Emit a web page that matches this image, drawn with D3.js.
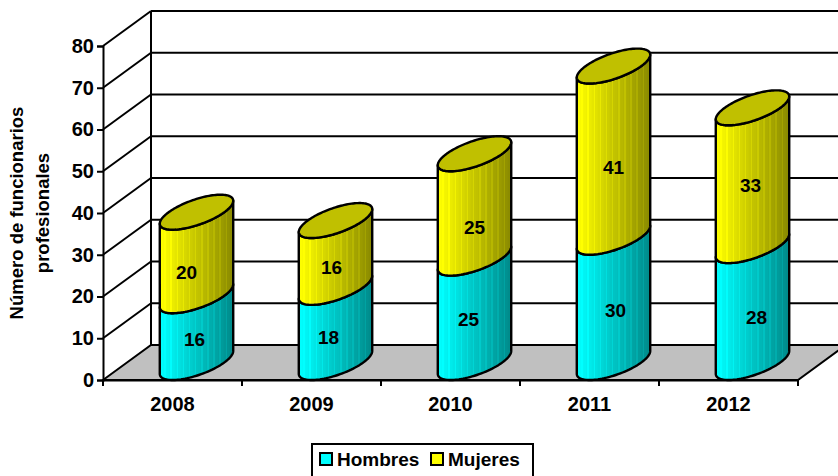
<!DOCTYPE html>
<html>
<head>
<meta charset="utf-8">
<script src="https://d3js.org/d3.v7.min.js"></script>
<style>
  html, body { margin: 0; padding: 0; background: #fff; }
  svg { display: block; }
  text { font-family: "Liberation Sans", Arial, sans-serif; font-weight: bold; fill: #000; }
</style>
</head>
<body>
<div id="chart"></div>
<script>
// Data
const years = ["2008", "2009", "2010", "2011", "2012"];
const hombres = [16, 18, 25, 30, 28];
const mujeres = [20, 16, 25, 41, 33];
const yTicks = [0, 10, 20, 30, 40, 50, 60, 70, 80];
const seriesNames = ["Hombres", "Mujeres"];

// Hand nudges for the data labels, they are not centred in the original
const labelNudgeH = [[-2, -7], [-7, -5], [-6, -8], [2, -7], [4, -4]];
const labelNudgeM = [[-10, 1], [-4, -4], [0, 4], [0, -2], [-2, -9]];

const width = 838, height = 476;
const plot = {left: 103, right: 798, top: 46, bottom: 380};
const depth = {x: 48, y: 35};

const svg = d3.select("#chart").append("svg")
    .attr("width", width)
    .attr("height", height);

const x = d3.scaleBand().domain(years).range([plot.left, plot.right]);
const y = d3.scaleLinear().domain([0, 80]).range([plot.bottom, plot.top]);

// Shaded fills with the faint vertical stripes of the cylinders
const defs = svg.append("defs");
function addGradient(id, rgb) {
  const g = defs.append("linearGradient").attr("id", id)
      .attr("x1", 0).attr("x2", 1).attr("y1", 0).attr("y2", 0);
  const n = 48;
  d3.range(n).forEach(i => {
    let k = 1 - 0.46 * (i / (n - 1));
    if (i % 4 === 3) k = Math.min(1, k + 0.06);
    const c = `rgb(${rgb.map(v => Math.round(v * k)).join(",")})`;
    g.append("stop").attr("offset", i / n).attr("stop-color", c);
    g.append("stop").attr("offset", (i + 1) / n).attr("stop-color", c);
  });
}
addGradient("gradHombres", [0, 255, 255]);
addGradient("gradMujeres", [255, 255, 0]);

// Walls and floor
const walls = svg.append("g")
    .attr("fill", "none")
    .attr("stroke", "#000")
    .attr("stroke-width", 2);

walls.append("path")
    .attr("d", `M${plot.left},${y(0)}L${plot.left + depth.x},${y(0) - depth.y}L${plot.right + depth.x},${y(0) - depth.y}L${plot.right},${y(0)}Z`)
    .attr("fill", "#c0c0c0");

walls.selectAll("line.back")
    .data(yTicks.filter(d => d > 0))
    .enter().append("line")
    .attr("class", "back")
    .attr("x1", plot.left + depth.x)
    .attr("x2", width)
    .attr("y1", d => y(d) - depth.y)
    .attr("y2", d => y(d) - depth.y);

walls.selectAll("line.side")
    .data(yTicks.filter(d => d > 0))
    .enter().append("line")
    .attr("class", "side")
    .attr("x1", plot.left)
    .attr("x2", plot.left + depth.x)
    .attr("y1", d => y(d))
    .attr("y2", d => y(d) - depth.y);

walls.append("line")
    .attr("x1", plot.left + depth.x)
    .attr("x2", plot.left + depth.x)
    .attr("y1", y(0) - depth.y)
    .attr("y2", y(80) - depth.y);

// Slanted ellipse of a cylinder cut, sampled around the angle
const rx = x.bandwidth() / 5;
const line = d3.line();
function ellipsePoint(i, v, a) {
  const cx = x(years[i]) + x.bandwidth() / 2 + depth.x / 2;
  const cy = y(v) - depth.y / 2;
  return [cx + rx * Math.cos(a) - depth.x / 2 * Math.sin(a), cy + depth.y / 2 * Math.sin(a)];
}
// angle of the right extreme in x, the front arc runs from there to the left one
const a0 = -Math.atan2(depth.x, 2 * rx);
const frontArc = d3.range(0, 1.001, 0.02).map(t => a0 + t * Math.PI);

function bodyPath(i, v0, v1) {
  const bottom = frontArc.map(a => ellipsePoint(i, v0, a));
  const top = frontArc.map(a => ellipsePoint(i, v1, a)).reverse();
  return line(bottom.concat(top)) + "Z";
}

const bars = svg.append("g")
    .attr("stroke", "#000")
    .attr("stroke-width", 2.4)
    .attr("stroke-linejoin", "round");

years.forEach((yr, i) => {
  const h = hombres[i], m = mujeres[i];
  bars.append("path").attr("d", bodyPath(i, 0, h)).attr("fill", "url(#gradHombres)");
  bars.append("path").attr("d", bodyPath(i, h, h + m)).attr("fill", "url(#gradMujeres)");
  bars.append("path")
      .attr("d", line(d3.range(0, 6.3, 0.05).map(a => ellipsePoint(i, h + m, a))) + "Z")
      .attr("fill", "#c0c000");
});

// Data labels
const labels = svg.append("g")
    .attr("text-anchor", "middle")
    .style("font-size", "19px");

years.forEach((yr, i) => {
  const cx = x(yr) + x.bandwidth() / 2 + depth.x / 2;
  const h = hombres[i], m = mujeres[i];
  labels.append("text")
      .attr("x", cx + labelNudgeH[i][0])
      .attr("y", y(h / 2) + labelNudgeH[i][1])
      .attr("dy", "0.35em")
      .text(h);
  labels.append("text")
      .attr("x", cx + labelNudgeM[i][0])
      .attr("y", y(h + m / 2) + labelNudgeM[i][1])
      .attr("dy", "0.35em")
      .text(m);
});

// Axes
const yAxis = svg.append("g")
    .attr("transform", `translate(${plot.left},0)`)
    .call(d3.axisLeft(y).tickValues(yTicks).tickSize(6).tickPadding(3));
yAxis.selectAll("path, line").attr("stroke", "#000").attr("stroke-width", 2);
yAxis.selectAll("text").style("font-size", "20px").style("font-family", null);

const xAxis = svg.append("g")
    .attr("transform", `translate(0,${plot.bottom})`)
    .call(d3.axisBottom(x).tickSize(0).tickPadding(17));
xAxis.selectAll("text").style("font-size", "20px");
xAxis.select("path").attr("stroke", "#000").attr("stroke-width", 2);

// Ticks sit between the categories
svg.append("g").selectAll("line")
    .data(years.concat("end"))
    .enter().append("line")
    .attr("x1", (d, i) => plot.left + i * x.step())
    .attr("x2", (d, i) => plot.left + i * x.step())
    .attr("y1", plot.bottom)
    .attr("y2", plot.bottom + 6)
    .attr("stroke", "#000")
    .attr("stroke-width", 2);

// Axis title
const title = svg.append("text")
    .attr("transform", "translate(23,213) rotate(-90)")
    .attr("text-anchor", "middle")
    .style("font-size", "18.5px");
title.append("tspan").attr("x", 0).attr("y", 0).text("Número de funcionarios");
title.append("tspan").attr("x", 0).attr("y", 26).text("profesionales");

// Legend
const legend = svg.append("g").attr("transform", "translate(312,444)");
legend.append("rect")
    .attr("width", 221)
    .attr("height", 40)
    .attr("fill", "#fff")
    .attr("stroke", "#000")
    .attr("stroke-width", 2);

const legendFill = ["#00ffff", "#ffff00"];
const legendX = [8, 119];
seriesNames.forEach((name, i) => {
  legend.append("rect")
      .attr("x", legendX[i])
      .attr("y", 9)
      .attr("width", 12)
      .attr("height", 12)
      .attr("fill", legendFill[i])
      .attr("stroke", "#000")
      .attr("stroke-width", 2);
  legend.append("text")
      .attr("x", legendX[i] + 17)
      .attr("y", 22)
      .style("font-size", "19px")
      .text(name);
});
</script>
</body>
</html>
